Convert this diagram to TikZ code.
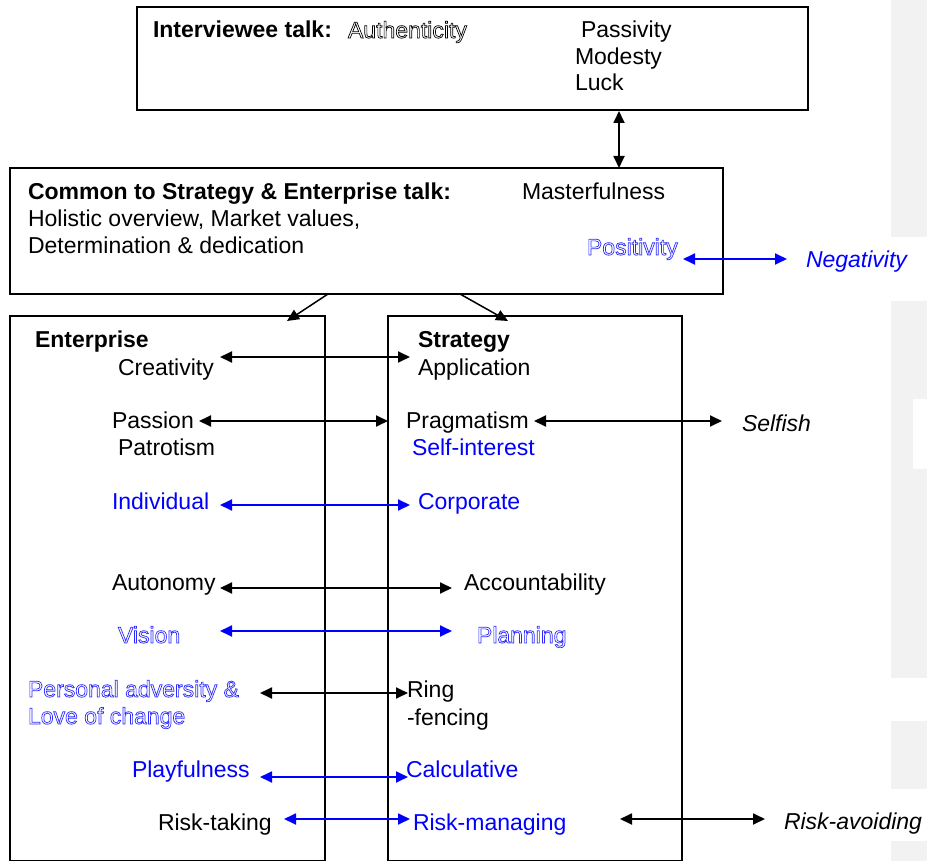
\documentclass[tikz,border=0pt]{standalone}
\usepackage{fontspec}
\setmainfont{Liberation Sans}
\usetikzlibrary{arrows.meta}
\definecolor{marginstrip}{HTML}{F2F2F2}
\definecolor{hollowblue}{HTML}{2a2aff}
% outlined (hollow) lettering: stroke the glyphs instead of filling them
\newcommand{\hollowtext}[1]{\special{pdf:literal direct 0.7 w 1 Tr}#1\special{pdf:literal direct 0 Tr}}
\begin{document}
\begin{tikzpicture}[x=1pt,y=-1pt,
  every node/.style={inner sep=0pt,outer sep=0pt},
  lbl/.style={anchor=base west,yshift=-2pt,font=\fontsize{23}{26}\selectfont},
  bluelbl/.style={lbl,text=blue},
  frame/.style={draw=black,line width=1.5pt,anchor=north west},
  biarrow/.style={{Triangle[length=12pt,width=11pt]}-{Triangle[length=12pt,width=11pt]},line width=1.8pt},
  onearrow/.style={-{Triangle[length=12pt,width=11pt]},line width=1.5pt},
  blk/.style={draw=black,fill=black},
  blu/.style={draw=blue,fill=blue}]
\useasboundingbox (0,0) rectangle (927,861);
\fill[white] (0,0) rectangle (927,861);

% grey margin strips on the right edge
\fill[marginstrip] (891,0) rectangle (927,237);
\fill[marginstrip] (891,301) rectangle (927,399);
\fill[marginstrip] (891,399) rectangle (913,469);
\fill[marginstrip] (891,469) rectangle (927,678);
\fill[marginstrip] (891,721) rectangle (927,789);
\fill[marginstrip] (891,841) rectangle (927,861);

% frames
\node[frame,minimum width=671pt,minimum height=103pt] (talk) at (137,7) {};
\node[frame,minimum width=713pt,minimum height=126pt] (common) at (10,168) {};
\node[frame,minimum width=315pt,minimum height=545pt] (entbox) at (10,316) {};
\node[frame,minimum width=294pt,minimum height=545pt] (strbox) at (388,316) {};

% interviewee talk
\node[lbl] (iv) at (153,36) {\textbf{Interviewee talk:}};
\node[lbl] (auth) at (348,36) {\hollowtext{Authenticity}};
\node[lbl] (pass) at (581,36) {Passivity};
\node[lbl] (mod) at (575,63) {Modesty};
\node[lbl] (luck) at (575,89) {Luck};

% common talk
\node[lbl] (cm) at (28,198) {\textbf{Common to Strategy \& Enterprise talk:}};
\node[lbl] (mast) at (522,198) {Masterfulness};
\node[lbl] (hol) at (28,225) {Holistic overview, Market values,};
\node[lbl] (det) at (28,252) {Determination \& dedication};
\node[lbl,text=hollowblue] (pos) at (587,253) {\color{hollowblue}\hollowtext{Positivity}};
\node[bluelbl] (neg) at (806,266) {\itshape Negativity};

% enterprise column
\node[lbl] (ent) at (35,346) {\textbf{Enterprise}};
\node[lbl] (cre) at (118,373) {Creativity};
\node[lbl] (passion) at (112,426) {Passion};
\node[lbl] (patr) at (118,453) {Patrotism};
\node[bluelbl] (indiv) at (112,507) {Individual};
\node[lbl] (auto) at (112,588) {Autonomy};
\node[lbl,text=hollowblue] (vis) at (118,641) {\color{hollowblue}\hollowtext{Vision}};
\node[lbl,text=hollowblue] (pers) at (28,695) {\color{hollowblue}\hollowtext{Personal adversity \&}};
\node[lbl,text=hollowblue] (love) at (28,722) {\color{hollowblue}\hollowtext{Love of change}};
\node[bluelbl] (play) at (132,775) {Playfulness};
\node[lbl] (rtake) at (158,828) {Risk-taking};

% strategy column
\node[lbl] (str) at (418,346) {\textbf{Strategy}};
\node[lbl] (app) at (418,373) {Application};
\node[lbl] (prag) at (406,426) {Pragmatism};
\node[bluelbl] (selfint) at (412,453) {Self-interest};
\node[lbl] (selfish) at (742,429) {\itshape Selfish};
\node[bluelbl] (corp) at (418,507) {Corporate};
\node[lbl] (acc) at (464,588) {Accountability};
\node[lbl,text=hollowblue] (plan) at (477,641) {\color{hollowblue}\hollowtext{Planning}};
\node[lbl] (ring) at (407,695) {Ring};
\node[lbl] (fenc) at (407,723) {-fencing};
\node[bluelbl] (calc) at (406,775) {Calculative};
\node[bluelbl] (rman) at (413,828) {Risk-managing};
\node[lbl] (ravoid) at (784,827) {\itshape Risk-avoiding};

% connector end points
\coordinate (talk-b) at (619,111);
\coordinate (common-t) at (619,168);
\coordinate (common-bl) at (328,294);
\coordinate (ent-top) at (287,321);
\coordinate (common-br) at (460,294);
\coordinate (str-top) at (508,321);
\coordinate (pos-r) at (683,259);
\coordinate (neg-l) at (787,259);
\coordinate (cre-r) at (220,357);
\coordinate (app-l) at (410,357);
\coordinate (passion-r) at (199,421);
\coordinate (prag-l) at (388,421);
\coordinate (prag-r) at (534,421);
\coordinate (selfish-l) at (722,421);
\coordinate (indiv-r) at (220,505);
\coordinate (corp-l) at (410,505);
\coordinate (auto-r) at (220,588);
\coordinate (acc-l) at (452,588);
\coordinate (vis-r) at (220,631);
\coordinate (plan-l) at (452,631);
\coordinate (pers-r) at (260,693);
\coordinate (ring-l) at (408,693);
\coordinate (play-r) at (260,777);
\coordinate (calc-l) at (408,777);
\coordinate (rtake-r) at (284,819);
\coordinate (rman-l) at (410,819);
\coordinate (rman-r) at (620,819);
\coordinate (ravoid-l) at (765,819);

% connectors
\draw[biarrow,blk] (talk-b) -- (common-t);
\draw[onearrow,blk] (common-bl) -- (ent-top);
\draw[onearrow,blk] (common-br) -- (str-top);
\draw[biarrow,blu] (pos-r) -- (neg-l);
\draw[biarrow,blk] (cre-r) -- (app-l);
\draw[biarrow,blk] (passion-r) -- (prag-l);
\draw[biarrow,blk] (prag-r) -- (selfish-l);
\draw[biarrow,blu] (indiv-r) -- (corp-l);
\draw[biarrow,blk] (auto-r) -- (acc-l);
\draw[biarrow,blu] (vis-r) -- (plan-l);
\draw[biarrow,blk] (pers-r) -- (ring-l);
\draw[biarrow,blu] (play-r) -- (calc-l);
\draw[biarrow,blu] (rtake-r) -- (rman-l);
\draw[biarrow,blk] (rman-r) -- (ravoid-l);
\end{tikzpicture}
\end{document}
